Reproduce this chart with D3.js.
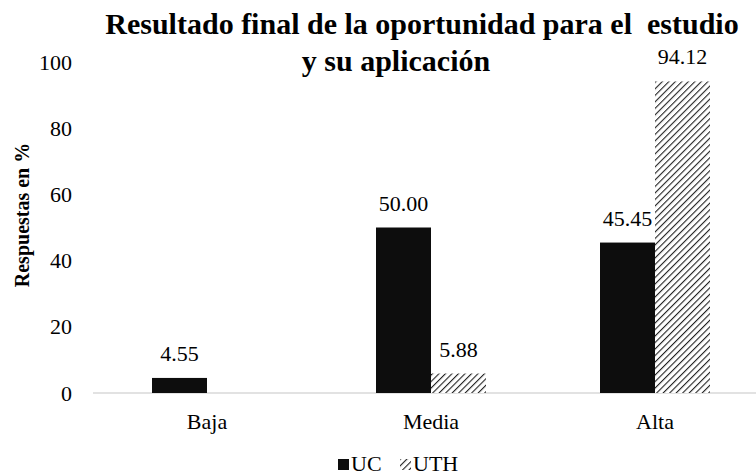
<!DOCTYPE html>
<html><head><meta charset="utf-8">
<script src="https://cdn.jsdelivr.net/npm/d3@7"></script>
<style>body{margin:0;background:#fff}svg{display:block}</style>
</head><body>
<svg id="c" width="756" height="476"></svg>
<script>
const categories = ["Baja", "Media", "Alta"];
const seriesNames = ["UC", "UTH"];
const ucValues = [4.55, 50.00, 45.45];
const uthValues = [null, 5.88, 94.12];
const yTicks = [0, 20, 40, 60, 80, 100];
const titleLines = ["Resultado final de la oportunidad para el  estudio", "y su aplicación"];
const yTitle = "Respuestas en %";

const FONT = '"Liberation Serif"';
const svg = d3.select("#c");
const defs = svg.append("defs");
const P = 4.6;
const pat = defs.append("pattern").attr("id","hatch").attr("patternUnits","userSpaceOnUse")
  .attr("width",P).attr("height",P).attr("patternTransform","rotate(45)");
pat.append("rect").attr("width",P).attr("height",P).attr("fill","#fff");
pat.append("line").attr("x1",0).attr("y1",0).attr("x2",0).attr("y2",P)
  .attr("stroke","#222").attr("stroke-width",2.2);

const x0 = d3.scaleBand().domain(categories).range([95, 767]).paddingInner(0.509).paddingOuter(0.2545);
const x1 = d3.scaleBand().domain(seriesNames).range([0, x0.bandwidth()]);
const y = d3.scaleLinear().domain([0, 100]).range([393, 62]);
const fills = {UC: "#0d0d0d", UTH: "url(#hatch)"};

const rows = categories.map((c, i) => ({cat: c, vals: [{s:"UC", v: ucValues[i]}, {s:"UTH", v: uthValues[i]}]}));

svg.append("line").attr("x1", 93).attr("x2", 756).attr("y1", y(0)).attr("y2", y(0))
  .attr("stroke", "#d9d9d9").attr("stroke-width", 1.3);

const yAxis = d3.axisLeft(y).tickValues(yTicks).tickSize(0).tickPadding(0);
const ga = svg.append("g").attr("transform", "translate(72,0)").call(yAxis);
ga.select(".domain").remove();
ga.selectAll("text").attr("font-size", 22).attr("fill", "#000").style("font-family", FONT);

const xAxis = d3.axisBottom(x0).tickSize(0).tickPadding(0);
const gx = svg.append("g").attr("transform", "translate(0,413)").call(xAxis);
gx.select(".domain").remove();
gx.selectAll("text").attr("font-size", 22).attr("fill", "#000").style("font-family", FONT);

const g = svg.selectAll("g.cat").data(rows).enter().append("g").attr("class","cat")
  .attr("transform", d => `translate(${x0(d.cat)},0)`);
g.selectAll("rect").data(d => d.vals.filter(v => v.v != null)).enter().append("rect")
  .attr("x", d => x1(d.s)).attr("width", x1.bandwidth())
  .attr("y", d => y(d.v)).attr("height", d => y(0) - y(d.v))
  .attr("fill", d => fills[d.s]);
g.selectAll("text.lbl").data(d => d.vals.filter(v => v.v != null)).enter().append("text")
  .attr("class","lbl").attr("x", d => x1(d.s) + x1.bandwidth()/2).attr("y", d => y(d.v) - 17)
  .attr("text-anchor","middle").attr("font-size", 22).attr("fill","#000").style("font-family", FONT)
  .text(d => d3.format(".2f")(d.v));

const titleX = [422, 396];
svg.selectAll("text.title").data(titleLines).enter().append("text").attr("class","title")
  .attr("x", (d, i) => titleX[i]).attr("y", (d, i) => 34 + i * 37).attr("text-anchor","middle")
  .attr("font-size", 30).attr("font-weight","bold").style("font-family", FONT)
  .style("white-space","pre").text(d => d);

svg.append("text").attr("transform", "translate(29,215) rotate(-90)").attr("text-anchor","middle")
  .attr("font-size", 20).attr("font-weight","bold").style("font-family", FONT).text(yTitle);

const leg = svg.append("g");
const legItems = [{s:"UC", x:338}, {s:"UTH", x:400}];
leg.selectAll("rect").data(legItems).enter().append("rect")
  .attr("x", d => d.x).attr("y", 459).attr("width", 11).attr("height", 11)
  .attr("fill", d => fills[d.s]);
leg.selectAll("text").data(legItems).enter().append("text")
  .attr("x", d => d.x + 13).attr("y", 471).attr("font-size", 22).style("font-family", FONT).text(d => d.s);
</script>
</body></html>
